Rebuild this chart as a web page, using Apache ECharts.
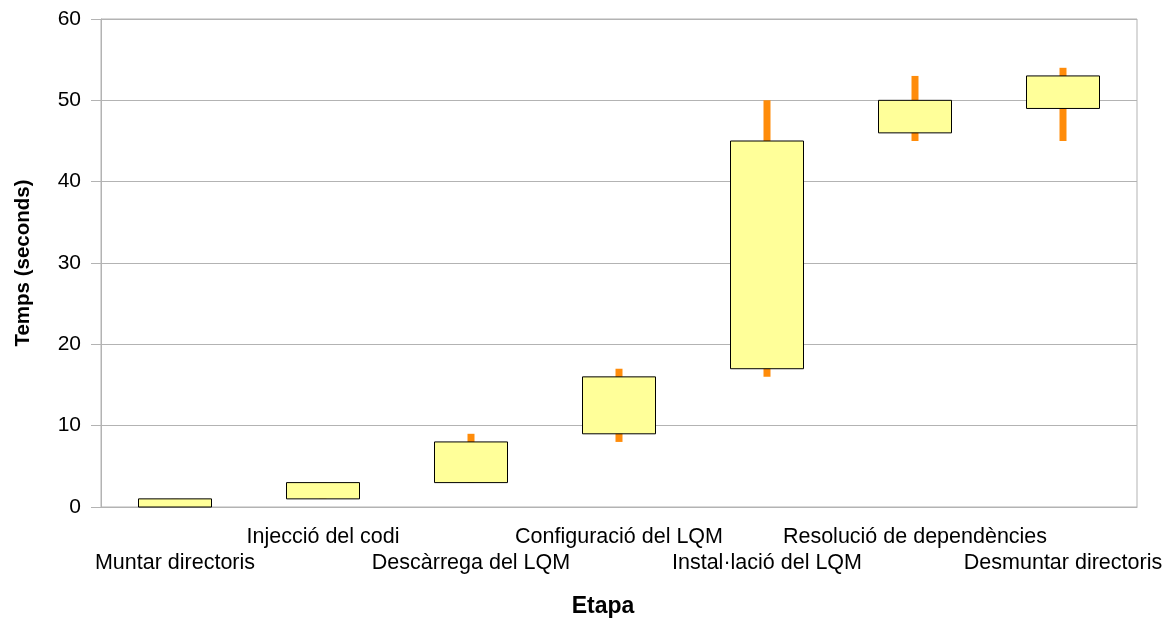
<!DOCTYPE html>
<html>
<head>
<meta charset="utf-8">
<script src="https://cdn.jsdelivr.net/npm/echarts@6/dist/echarts.min.js"></script>
<style>
html,body{margin:0;padding:0;background:#fff;}
#chart{width:1165px;height:620px;}
</style>
</head>
<body>
<div id="chart"></div>
<script>
const categories = ["Muntar directoris","Injecció del codi","Descàrrega del LQM","Configuració del LQM","Instal·lació del LQM","Resolució de dependències","Desmuntar directoris"];
const openVals  = [0, 1, 3, 9, 17, 46, 49];
const closeVals = [1, 3, 8, 16, 45, 50, 53];
const lowVals   = [0, 1, 3, 8, 16, 45, 45];
const highVals  = [1, 3, 9, 17, 50, 53, 54];
const yTicks = [0, 10, 20, 30, 40, 50, 60];

const whiskerData = categories.map((c, i) => [lowVals[i], highVals[i], lowVals[i], highVals[i]]);
const boxData = categories.map((c, i) => [openVals[i], closeVals[i], openVals[i], closeVals[i]]);

const FONT = '"Liberation Sans", Arial, sans-serif';
const chart = echarts.init(document.getElementById('chart'), null, {renderer: 'canvas'});
chart.setOption({
  animation: false,
  backgroundColor: '#ffffff',
  textStyle: {fontFamily: FONT},
  grid: {left: 101, right: 28, top: 19, bottom: 113, containLabel: false, outerBoundsMode: 'none', show: true, borderColor: '#b3b3b3', borderWidth: 1, backgroundColor: 'transparent'},
  xAxis: {
    type: 'category',
    data: categories,
    boundaryGap: true,
    name: 'Etapa',
    nameLocation: 'middle',
    nameGap: 88,
    nameTextStyle: {fontFamily: FONT, fontSize: 23, fontWeight: 'bold', color: '#000', padding: [0, 32, 0, 0]},
    axisLine: {lineStyle: {color: '#b3b3b3', width: 1}},
    axisTick: {alignWithLabel: true, length: 10, lineStyle: {color: '#b3b3b3'}},
    axisLabel: {
      interval: 0,
      hideOverlap: false,
      margin: 17,
      fontFamily: FONT,
      fontSize: 21.5,
      color: '#000',
      lineHeight: 26,
      formatter: function (value, index) { return index % 2 === 0 ? '\n' + value : value; }
    },
    splitLine: {show: false}
  },
  yAxis: {
    type: 'value',
    min: yTicks[0],
    max: yTicks[yTicks.length - 1],
    interval: 10,
    name: 'Temps (seconds)',
    nameLocation: 'middle',
    nameGap: 67,
    nameTextStyle: {fontFamily: FONT, fontSize: 20.5, fontWeight: 'bold', color: '#000'},
    axisLine: {show: true, lineStyle: {color: '#b3b3b3', width: 1}},
    axisTick: {show: true, length: 10, lineStyle: {color: '#b3b3b3'}},
    axisLabel: {fontFamily: FONT, fontSize: 21, color: '#000', margin: 20},
    splitLine: {show: true, lineStyle: {color: '#b3b3b3', width: 1}}
  },
  series: [
    {
      type: 'candlestick',
      data: whiskerData,
      barWidth: 8,
      itemStyle: {color: '#ff8c0a', color0: '#ff8c0a', borderColor: '#ff8c0a', borderColor0: '#ff8c0a', borderWidth: 0}
    },
    {
      type: 'candlestick',
      data: boxData,
      barWidth: '50%',
      itemStyle: {color: '#ffff99', color0: '#ffff99', borderColor: '#000000', borderColor0: '#000000', borderWidth: 1}
    }
  ]
});
</script>
</body>
</html>
